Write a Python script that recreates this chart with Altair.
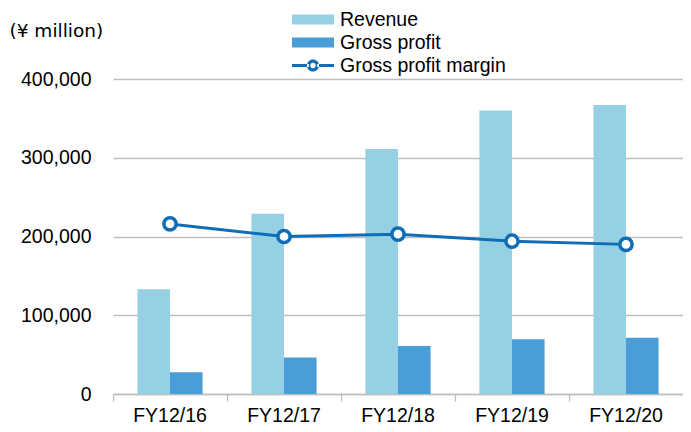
import altair as alt
import pandas as pd

years = ["FY12/16", "FY12/17", "FY12/18", "FY12/19", "FY12/20"]
revenue = [133000, 229000, 311000, 360000, 367000]
gross_profit = [27500, 46500, 61000, 69500, 71500]
margin = [21.6, 20.0, 20.3, 19.4, 19.0]  # %, plotted on a hidden secondary axis (0-40%)

series = ["Revenue", "Gross profit", "Gross profit margin"]
colors = ["#96D0E4", "#4A9ED7", "#0F6EB7"]
y_ticks = [0, 100000, 200000, 300000, 400000]

bar_df = pd.DataFrame({
    "year": years * 2,
    "series": [series[0]] * len(years) + [series[1]] * len(years),
    "value": revenue + gross_profit,
})
line_df = pd.DataFrame({"year": years, "margin": margin})

FONT = "Liberation Sans"
GRID = "#BFBFBF"

rect_path = "M-1,-0.24H1V0.24H-1Z"
marg_path = ("M-1,-0.072H-0.2V0.072H-1Z M0.2,-0.072H1V0.072H0.2Z "
             "M-0.29,0A0.29,0.29 0 1,0 0.29,0A0.29,0.29 0 1,0 -0.29,0Z "
             "M-0.13,0A0.13,0.13 0 1,1 0.13,0A0.13,0.13 0 1,1 -0.13,0Z")

legend = alt.Legend(
    title=None, orient="none", legendX=179, legendY=-71,
    symbolSize=1764, clipHeight=23, rowPadding=0, padding=0,
    labelFontSize=19.5, labelColor="#000000", labelFont=FONT, labelOffset=6,
    labelLimit=400,
    symbolType=alt.ExprRef(f"datum.value === 'Gross profit margin' ? '{marg_path}' : '{rect_path}'"),
    symbolStrokeWidth=0, symbolOpacity=1,
)

x_enc = alt.X(
    "year:N", sort=years, title=None,
    scale=alt.Scale(paddingInner=0, paddingOuter=0),
    axis=alt.Axis(bandPosition=0, labelAngle=0, labelFontSize=19.5, labelColor="#000000",
                  labelFont=FONT, tickSize=7, tickColor=GRID, tickWidth=1.3,
                  domainColor=GRID, domainWidth=1.3, labelPadding=5, grid=False),
)

bars = alt.Chart(bar_df).mark_bar().encode(
    x=x_enc,
    xOffset=alt.XOffset("series:N", sort=series[:2],
                        scale=alt.Scale(paddingOuter=0.75, paddingInner=0)),
    y=alt.Y("value:Q", scale=alt.Scale(domain=[0, 400000]),
            axis=alt.Axis(values=y_ticks, format=",d", domain=False, ticks=False,
                          labelPadding=22, labelFontSize=19.5, labelColor="#000000",
                          labelFont=FONT, gridColor=GRID, gridWidth=1.3,
                          title="(¥ million)", titleAngle=0, titleAlign="left",
                          titleBaseline="middle", titleX=-104, titleY=-49,
                          titleFont="DejaVu Sans", titleFontSize=18.5,
                          titleFontWeight="normal", titleColor="#000000")),
    color=alt.Color("series:N", scale=alt.Scale(domain=series, range=colors), legend=legend),
)

line = alt.Chart(line_df).mark_line(color=colors[2], strokeWidth=3).encode(
    x=alt.X("year:N", sort=years),
    y=alt.Y("margin:Q", scale=alt.Scale(domain=[0, 40]), axis=None),
)
points = alt.Chart(line_df).mark_point(
    filled=True, fill="white", stroke=colors[2], strokeWidth=3.5, size=150, opacity=1
).encode(
    x=alt.X("year:N", sort=years),
    y=alt.Y("margin:Q", scale=alt.Scale(domain=[0, 40]), axis=None),
)

chart = alt.layer(bars, line, points).resolve_scale(y="independent").properties(
    width=570, height=315,
    autosize="none",
    padding={"left": 105, "top": 71, "right": 0, "bottom": 30},
    background="white",
).configure_view(stroke=None)

chart.save("out.html", embed_options={"renderer": "svg", "actions": False})
